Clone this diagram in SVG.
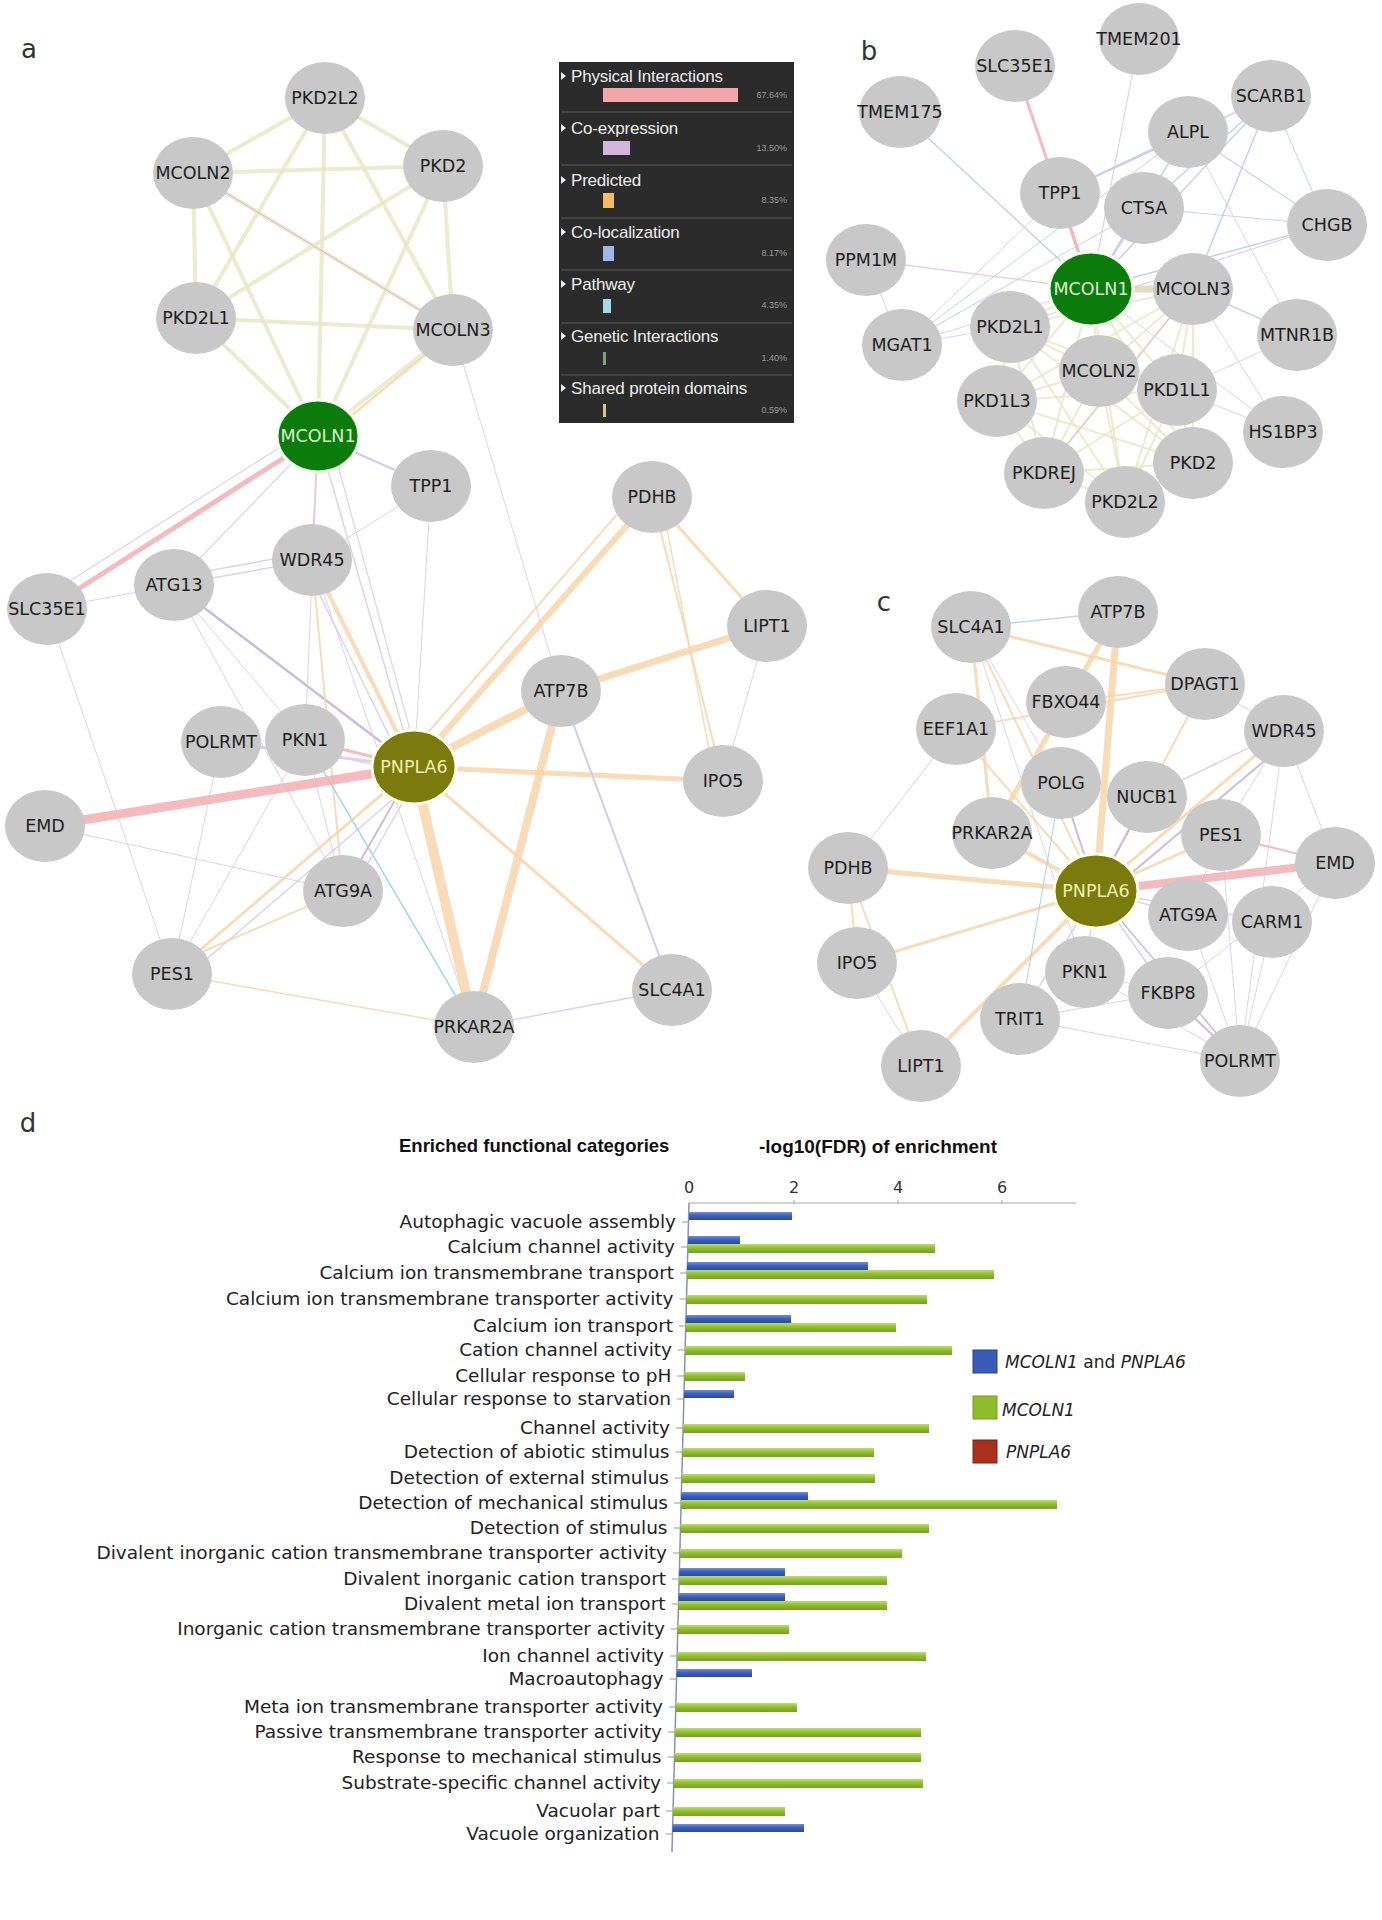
<svg xmlns="http://www.w3.org/2000/svg" width="1382" height="1920" viewBox="0 0 1382 1920">
<style>
.bg{fill:#ffffff}
.e line{fill:none;stroke-linecap:round}
.phy{stroke:#f3b3b6;stroke-opacity:.9}
.phs{stroke:#e9b5c6}
.coe{stroke:#d9cde7;stroke-opacity:.9}
.coed{stroke:#cbbcdf}
.pre{stroke:#f8d5aa;stroke-opacity:.85}
.col{stroke:#c2cbeb;stroke-opacity:.9}
.pat{stroke:#9fd9e6}
.dom{stroke:#e8e8c6;stroke-opacity:.85}
.domb{stroke:#e2dcc2}
.n ellipse{fill:#c8c8c8}
.n text{font-family:"DejaVu Sans","Liberation Sans",sans-serif;font-size:17.5px;fill:#1e1e1e;text-anchor:middle}
.q1 ellipse{fill:#0b7b0c;stroke:#f4fff0;stroke-width:3}
.q1 text{fill:#dcf0d2}
.q2 ellipse{fill:#7b7a0c;stroke:#fffde6;stroke-width:3}
.q2 text{fill:#f2efb4}
.pl{font-family:"DejaVu Sans",sans-serif;font-size:26px;fill:#333}
.lg text.h{font-family:"Liberation Sans",Arial,sans-serif;font-size:17px;letter-spacing:-0.2px;fill:#eeeeee}
.lg text.p{font-family:"Liberation Sans",Arial,sans-serif;font-size:9px;fill:#9a9a9a;text-anchor:end}
.lg line{stroke:#4a4a4a;stroke-width:1.5}
.lg polygon{fill:#eeeeee}
.cl{font-family:"DejaVu Sans",sans-serif;font-size:18.5px;fill:#222;text-anchor:end}
.ct{font-family:"Liberation Sans",Arial,sans-serif;font-size:18.5px;font-weight:bold;fill:#111}
.tk{font-family:"DejaVu Sans",sans-serif;font-size:16px;fill:#333;text-anchor:middle}
.lt{font-family:"DejaVu Sans",sans-serif;font-size:17px;fill:#222}
.it{font-style:italic}
.bb{fill:url(#gb)}
.bgn{fill:url(#gg)}
.tick{stroke:#9a9a9a;stroke-width:1}
</style>
<defs>
<linearGradient id="gb" x1="0" y1="0" x2="0" y2="1"><stop offset="0" stop-color="#6f8fdc"/><stop offset="0.45" stop-color="#3d5fbc"/><stop offset="1" stop-color="#2b489c"/></linearGradient>
<linearGradient id="gg" x1="0" y1="0" x2="0" y2="1"><stop offset="0" stop-color="#bedd66"/><stop offset="0.45" stop-color="#8fbd2e"/><stop offset="1" stop-color="#76a01e"/></linearGradient>
</defs>
<rect class="bg" x="0" y="0" width="1382" height="1920"/>

<text class="pl" x="29" y="58" text-anchor="middle">a</text>
<text class="pl" x="869" y="60" text-anchor="middle">b</text>
<text class="pl" x="884" y="611" text-anchor="middle">c</text>
<text class="pl" x="28" y="1132" text-anchor="middle">d</text>

<g id="connectors" class="e">
 <g id="conn-a">
  <line class="dom" stroke-width="4" x1="325" y1="98" x2="193" y2="173"/>
  <line class="dom" stroke-width="4" x1="325" y1="98" x2="443" y2="166"/>
  <line class="dom" stroke-width="4" x1="325" y1="98" x2="196" y2="318"/>
  <line class="dom" stroke-width="4" x1="325" y1="98" x2="453" y2="330"/>
  <line class="dom" stroke-width="4" x1="325" y1="98" x2="318" y2="436"/>
  <line class="dom" stroke-width="4" x1="193" y1="173" x2="443" y2="166"/>
  <line class="dom" stroke-width="4" x1="193" y1="173" x2="196" y2="318"/>
  <line class="dom" stroke-width="4" x1="193" y1="173" x2="453" y2="330"/>
  <line class="dom" stroke-width="4" x1="193" y1="173" x2="318" y2="436"/>
  <line class="dom" stroke-width="4" x1="443" y1="166" x2="196" y2="318"/>
  <line class="dom" stroke-width="4" x1="443" y1="166" x2="453" y2="330"/>
  <line class="dom" stroke-width="4" x1="443" y1="166" x2="318" y2="436"/>
  <line class="dom" stroke-width="4" x1="196" y1="318" x2="453" y2="330"/>
  <line class="dom" stroke-width="4" x1="196" y1="318" x2="318" y2="436"/>
  <line class="dom" stroke-width="4" x1="453" y1="330" x2="318" y2="436"/>
  <line class="phs" stroke-width="1" x1="193" y1="173" x2="453" y2="330"/>
  <line class="pre" stroke-width="2.5" x1="448" y1="336" x2="322" y2="440"/>
  <line class="phy" stroke-width="5" x1="318" y1="436" x2="47" y2="609"/>
  <line class="coe" stroke-width="1.2" x1="310" y1="428" x2="40" y2="600"/>
  <line class="coe" stroke-width="1.2" x1="318" y1="436" x2="174" y2="585"/>
  <line class="col" stroke-width="2" x1="318" y1="436" x2="431" y2="486"/>
  <line class="coe" stroke-width="2" x1="318" y1="436" x2="312" y2="560"/>
  <line class="coe" stroke-width="1.5" x1="318" y1="436" x2="414" y2="767"/>
  <line class="coe" stroke-width="1.2" x1="330" y1="436" x2="420" y2="767"/>
  <line class="coe" stroke-width="1" x1="318" y1="436" x2="305" y2="740"/>
  <line class="coe" stroke-width="1" x1="453" y1="330" x2="561" y2="691"/>
  <line class="coe" stroke-width="1" x1="431" y1="486" x2="312" y2="560"/>
  <line class="coe" stroke-width="1" x1="431" y1="486" x2="414" y2="767"/>
  <line class="coe" stroke-width="1" x1="47" y1="609" x2="174" y2="585"/>
  <line class="coe" stroke-width="1" x1="47" y1="609" x2="172" y2="974"/>
  <line class="coe" stroke-width="1.5" x1="174" y1="585" x2="312" y2="560"/>
  <line class="coe" stroke-width="1.5" x1="174" y1="577" x2="312" y2="552"/>
  <line class="coed" stroke-width="2.5" x1="174" y1="585" x2="414" y2="767"/>
  <line class="coe" stroke-width="1" x1="174" y1="585" x2="343" y2="891"/>
  <line class="coe" stroke-width="1" x1="174" y1="585" x2="305" y2="740"/>
  <line class="pre" stroke-width="4" x1="312" y1="560" x2="414" y2="767"/>
  <line class="coe" stroke-width="1.5" x1="304" y1="563" x2="406" y2="770"/>
  <line class="pre" stroke-width="2" x1="312" y1="560" x2="343" y2="891"/>
  <line class="coe" stroke-width="1" x1="312" y1="560" x2="474" y2="1027"/>
  <line class="coe" stroke-width="1" x1="45" y1="826" x2="343" y2="891"/>
  <line class="coe" stroke-width="1" x1="172" y1="974" x2="221" y2="742"/>
  <line class="coe" stroke-width="1" x1="172" y1="974" x2="305" y2="740"/>
  <line class="pre" stroke-width="1.5" x1="172" y1="974" x2="474" y2="1027"/>
  <line class="pre" stroke-width="3" x1="172" y1="974" x2="414" y2="767"/>
  <line class="coe" stroke-width="1.5" x1="180" y1="982" x2="420" y2="776"/>
  <line class="pre" stroke-width="2" x1="165" y1="968" x2="343" y2="891"/>
  <line class="pat" stroke-width="1.5" x1="305" y1="740" x2="474" y2="1027"/>
  <line class="coe" stroke-width="1" x1="305" y1="740" x2="343" y2="891"/>
  <line class="coed" stroke-width="2" x1="414" y1="767" x2="343" y2="891"/>
  <line class="coe" stroke-width="1.5" x1="420" y1="772" x2="350" y2="895"/>
  <line class="coe" stroke-width="3" x1="221" y1="742" x2="414" y2="767"/>
  <line class="phy" stroke-width="3" x1="305" y1="740" x2="414" y2="767"/>
  <line class="coe" stroke-width="1.2" x1="305" y1="748" x2="414" y2="775"/>
  <line class="phy" stroke-width="9" x1="45" y1="826" x2="414" y2="767"/>
  <line class="pre" stroke-width="8" x1="414" y1="767" x2="561" y2="691"/>
  <line class="pre" stroke-width="6" x1="414" y1="767" x2="652" y2="497"/>
  <line class="pre" stroke-width="2" x1="406" y1="758" x2="638" y2="490"/>
  <line class="pre" stroke-width="7" x1="561" y1="691" x2="767" y2="626"/>
  <line class="pre" stroke-width="3" x1="652" y1="497" x2="767" y2="626"/>
  <line class="pre" stroke-width="2" x1="652" y1="497" x2="723" y2="781"/>
  <line class="pre" stroke-width="1.5" x1="661" y1="497" x2="715" y2="781"/>
  <line class="coe" stroke-width="1" x1="767" y1="626" x2="723" y2="781"/>
  <line class="pre" stroke-width="5" x1="414" y1="767" x2="723" y2="781"/>
  <line class="pre" stroke-width="10" x1="414" y1="767" x2="474" y2="1027"/>
  <line class="pre" stroke-width="8" x1="561" y1="691" x2="474" y2="1027"/>
  <line class="pre" stroke-width="3" x1="414" y1="767" x2="672" y2="990"/>
  <line class="col" stroke-width="2" x1="561" y1="691" x2="672" y2="990"/>
  <line class="coe" stroke-width="1.5" x1="672" y1="990" x2="474" y2="1027"/>
 </g>
 <g id="conn-b">
  <line class="dom" stroke-width="2" x1="1091" y1="289" x2="1010" y2="327"/>
  <line class="dom" stroke-width="2" x1="1091" y1="289" x2="1099" y2="371"/>
  <line class="dom" stroke-width="2" x1="1091" y1="289" x2="1177" y2="390"/>
  <line class="dom" stroke-width="2" x1="1091" y1="289" x2="997" y2="401"/>
  <line class="dom" stroke-width="2" x1="1091" y1="289" x2="1193" y2="463"/>
  <line class="dom" stroke-width="2" x1="1091" y1="289" x2="1044" y2="473"/>
  <line class="dom" stroke-width="2" x1="1091" y1="289" x2="1125" y2="502"/>
  <line class="dom" stroke-width="2" x1="1193" y1="289" x2="1010" y2="327"/>
  <line class="dom" stroke-width="2" x1="1193" y1="289" x2="1099" y2="371"/>
  <line class="dom" stroke-width="2" x1="1193" y1="289" x2="1177" y2="390"/>
  <line class="dom" stroke-width="2" x1="1193" y1="289" x2="997" y2="401"/>
  <line class="dom" stroke-width="2" x1="1193" y1="289" x2="1193" y2="463"/>
  <line class="dom" stroke-width="2" x1="1193" y1="289" x2="1044" y2="473"/>
  <line class="dom" stroke-width="2" x1="1193" y1="289" x2="1125" y2="502"/>
  <line class="dom" stroke-width="2" x1="1010" y1="327" x2="1099" y2="371"/>
  <line class="dom" stroke-width="2" x1="1010" y1="327" x2="1177" y2="390"/>
  <line class="dom" stroke-width="2" x1="1010" y1="327" x2="997" y2="401"/>
  <line class="dom" stroke-width="2" x1="1010" y1="327" x2="1193" y2="463"/>
  <line class="dom" stroke-width="2" x1="1010" y1="327" x2="1044" y2="473"/>
  <line class="dom" stroke-width="2" x1="1010" y1="327" x2="1125" y2="502"/>
  <line class="dom" stroke-width="2" x1="1099" y1="371" x2="1177" y2="390"/>
  <line class="dom" stroke-width="2" x1="1099" y1="371" x2="997" y2="401"/>
  <line class="dom" stroke-width="2" x1="1099" y1="371" x2="1193" y2="463"/>
  <line class="dom" stroke-width="2" x1="1099" y1="371" x2="1044" y2="473"/>
  <line class="dom" stroke-width="2" x1="1099" y1="371" x2="1125" y2="502"/>
  <line class="dom" stroke-width="2" x1="1177" y1="390" x2="997" y2="401"/>
  <line class="dom" stroke-width="2" x1="1177" y1="390" x2="1193" y2="463"/>
  <line class="dom" stroke-width="2" x1="1177" y1="390" x2="1044" y2="473"/>
  <line class="dom" stroke-width="2" x1="1177" y1="390" x2="1125" y2="502"/>
  <line class="dom" stroke-width="2" x1="997" y1="401" x2="1193" y2="463"/>
  <line class="dom" stroke-width="2" x1="997" y1="401" x2="1044" y2="473"/>
  <line class="dom" stroke-width="2" x1="997" y1="401" x2="1125" y2="502"/>
  <line class="dom" stroke-width="2" x1="1193" y1="463" x2="1044" y2="473"/>
  <line class="dom" stroke-width="2" x1="1193" y1="463" x2="1125" y2="502"/>
  <line class="dom" stroke-width="2" x1="1044" y1="473" x2="1125" y2="502"/>
  <line class="phs" stroke-width="1" x1="1193" y1="289" x2="1044" y2="473"/>
  <line class="domb" stroke-width="7" x1="1091" y1="289" x2="1193" y2="289"/>
  <line class="phy" stroke-width="3" x1="1015" y1="66" x2="1091" y2="289"/>
  <line class="phy" stroke-width="2" x1="1060" y1="193" x2="1091" y2="289"/>
  <line class="coe" stroke-width="1.2" x1="1139" y1="39" x2="1091" y2="289"/>
  <line class="col" stroke-width="1.5" x1="900" y1="112" x2="1091" y2="289"/>
  <line class="col" stroke-width="1.5" x1="1188" y1="132" x2="1091" y2="289"/>
  <line class="col" stroke-width="1.5" x1="1188" y1="132" x2="1060" y2="193"/>
  <line class="col" stroke-width="1.2" x1="1188" y1="132" x2="1327" y2="225"/>
  <line class="col" stroke-width="1" x1="1188" y1="132" x2="902" y2="345"/>
  <line class="coe" stroke-width="1" x1="1188" y1="132" x2="1297" y2="335"/>
  <line class="col" stroke-width="1.5" x1="1271" y1="96" x2="1060" y2="193"/>
  <line class="col" stroke-width="1.5" x1="1271" y1="96" x2="1144" y2="208"/>
  <line class="col" stroke-width="1.5" x1="1271" y1="96" x2="1091" y2="289"/>
  <line class="col" stroke-width="1" x1="1271" y1="96" x2="1327" y2="225"/>
  <line class="col" stroke-width="1.5" x1="1271" y1="96" x2="1193" y2="289"/>
  <line class="col" stroke-width="1.5" x1="1327" y1="225" x2="1091" y2="289"/>
  <line class="col" stroke-width="1" x1="1327" y1="225" x2="1144" y2="208"/>
  <line class="col" stroke-width="1" x1="1327" y1="225" x2="1010" y2="327"/>
  <line class="col" stroke-width="1.5" x1="1297" y1="335" x2="1193" y2="289"/>
  <line class="coe" stroke-width="1" x1="1297" y1="335" x2="1177" y2="390"/>
  <line class="coe" stroke-width="1" x1="1283" y1="432" x2="1193" y2="289"/>
  <line class="coe" stroke-width="1" x1="1283" y1="432" x2="1091" y2="289"/>
  <line class="coe" stroke-width="1" x1="1283" y1="432" x2="1177" y2="390"/>
  <line class="coe" stroke-width="1.5" x1="866" y1="260" x2="1091" y2="289"/>
  <line class="coe" stroke-width="1" x1="866" y1="260" x2="902" y2="345"/>
  <line class="coe" stroke-width="1" x1="902" y1="345" x2="1091" y2="289"/>
  <line class="coe" stroke-width="1" x1="902" y1="345" x2="1060" y2="193"/>
  <line class="col" stroke-width="1" x1="902" y1="345" x2="1144" y2="208"/>
  <line class="coe" stroke-width="1" x1="902" y1="345" x2="1010" y2="327"/>
  <line class="col" stroke-width="1.5" x1="1091" y1="289" x2="1144" y2="208"/>
 </g>
 <g id="conn-c">
  <line class="col" stroke-width="1.5" x1="971" y1="627" x2="1118" y2="612"/>
  <line class="pre" stroke-width="3" x1="971" y1="627" x2="1205" y2="684"/>
  <line class="pre" stroke-width="2" x1="971" y1="627" x2="1096" y2="891"/>
  <line class="pre" stroke-width="3" x1="971" y1="627" x2="992" y2="833"/>
  <line class="coe" stroke-width="1" x1="971" y1="627" x2="1085" y2="972"/>
  <line class="coe" stroke-width="1" x1="971" y1="627" x2="1061" y2="783"/>
  <line class="pre" stroke-width="7" x1="1118" y1="612" x2="1096" y2="891"/>
  <line class="pre" stroke-width="5" x1="1118" y1="612" x2="992" y2="833"/>
  <line class="pre" stroke-width="2" x1="1066" y1="702" x2="1205" y2="684"/>
  <line class="pre" stroke-width="2" x1="956" y1="729" x2="1205" y2="684"/>
  <line class="pre" stroke-width="2" x1="956" y1="729" x2="1096" y2="891"/>
  <line class="coe" stroke-width="1" x1="956" y1="729" x2="848" y2="868"/>
  <line class="pre" stroke-width="2" x1="1205" y1="684" x2="1096" y2="891"/>
  <line class="coe" stroke-width="1" x1="1205" y1="684" x2="1284" y2="731"/>
  <line class="pre" stroke-width="3" x1="1284" y1="731" x2="1096" y2="891"/>
  <line class="coed" stroke-width="2" x1="1289" y1="740" x2="1101" y2="899"/>
  <line class="coe" stroke-width="1" x1="1284" y1="731" x2="1335" y2="863"/>
  <line class="coe" stroke-width="1.5" x1="1284" y1="731" x2="1147" y2="797"/>
  <line class="coe" stroke-width="1" x1="1284" y1="731" x2="1240" y2="1061"/>
  <line class="coed" stroke-width="2" x1="1147" y1="797" x2="1096" y2="891"/>
  <line class="coed" stroke-width="2" x1="1061" y1="783" x2="1096" y2="891"/>
  <line class="pre" stroke-width="4" x1="992" y1="833" x2="1096" y2="891"/>
  <line class="pre" stroke-width="3" x1="1221" y1="835" x2="1096" y2="891"/>
  <line class="coe" stroke-width="1" x1="1221" y1="835" x2="1240" y2="1061"/>
  <line class="coe" stroke-width="1" x1="1221" y1="835" x2="1284" y2="731"/>
  <line class="coe" stroke-width="1" x1="1221" y1="835" x2="1188" y2="915"/>
  <line class="phy" stroke-width="2" x1="1221" y1="835" x2="1335" y2="863"/>
  <line class="phy" stroke-width="8" x1="1335" y1="863" x2="1096" y2="891"/>
  <line class="coe" stroke-width="1" x1="1335" y1="863" x2="1240" y2="1061"/>
  <line class="coe" stroke-width="1" x1="1335" y1="863" x2="1168" y2="993"/>
  <line class="coe" stroke-width="1.5" x1="1272" y1="922" x2="1096" y2="891"/>
  <line class="coe" stroke-width="1" x1="1272" y1="922" x2="1240" y2="1061"/>
  <line class="coe" stroke-width="1.5" x1="1188" y1="915" x2="1096" y2="891"/>
  <line class="coe" stroke-width="1.5" x1="1085" y1="972" x2="1096" y2="891"/>
  <line class="coe" stroke-width="1.5" x1="1168" y1="993" x2="1096" y2="891"/>
  <line class="coed" stroke-width="2" x1="1168" y1="993" x2="1240" y2="1061"/>
  <line class="coe" stroke-width="1.5" x1="1020" y1="1019" x2="1096" y2="891"/>
  <line class="coe" stroke-width="1" x1="1020" y1="1019" x2="1240" y2="1061"/>
  <line class="coe" stroke-width="1" x1="1020" y1="1019" x2="1168" y2="993"/>
  <line class="coe" stroke-width="1" x1="1085" y1="972" x2="1168" y2="993"/>
  <line class="pre" stroke-width="4" x1="921" y1="1066" x2="1096" y2="891"/>
  <line class="pre" stroke-width="3" x1="857" y1="963" x2="1096" y2="891"/>
  <line class="pre" stroke-width="5" x1="848" y1="868" x2="1096" y2="891"/>
  <line class="pre" stroke-width="2" x1="848" y1="868" x2="857" y2="963"/>
  <line class="pre" stroke-width="2" x1="848" y1="868" x2="921" y2="1066"/>
  <line class="coe" stroke-width="1" x1="857" y1="963" x2="921" y2="1066"/>
  <line class="coed" stroke-width="1.5" x1="1240" y1="1061" x2="1096" y2="891"/>
  <line class="coe" stroke-width="1" x1="1240" y1="1061" x2="1188" y2="915"/>
  <line class="coe" stroke-width="1" x1="1240" y1="1061" x2="1085" y2="972"/>
  <line class="pat" stroke-width="1" x1="1020" y1="1019" x2="1061" y2="783"/>
 </g>
</g>

<g id="nodes-a" class="n">
 <g id="a-PKD2L2"><ellipse cx="325" cy="98" rx="40" ry="36"/><text x="325" y="104">PKD2L2</text></g>
 <g id="a-MCOLN2"><ellipse cx="193" cy="173" rx="40" ry="36"/><text x="193" y="179">MCOLN2</text></g>
 <g id="a-PKD2"><ellipse cx="443" cy="166" rx="40" ry="36"/><text x="443" y="172">PKD2</text></g>
 <g id="a-PKD2L1"><ellipse cx="196" cy="318" rx="40" ry="36"/><text x="196" y="324">PKD2L1</text></g>
 <g id="a-MCOLN3"><ellipse cx="453" cy="330" rx="40" ry="36"/><text x="453" y="336">MCOLN3</text></g>
 <g id="a-MCOLN1" class="q1"><ellipse cx="318" cy="436" rx="41" ry="36"/><text x="318" y="442">MCOLN1</text></g>
 <g id="a-TPP1"><ellipse cx="431" cy="486" rx="40" ry="36"/><text x="431" y="492">TPP1</text></g>
 <g id="a-PDHB"><ellipse cx="652" cy="497" rx="40" ry="36"/><text x="652" y="503">PDHB</text></g>
 <g id="a-WDR45"><ellipse cx="312" cy="560" rx="40" ry="36"/><text x="312" y="566">WDR45</text></g>
 <g id="a-ATG13"><ellipse cx="174" cy="585" rx="40" ry="36"/><text x="174" y="591">ATG13</text></g>
 <g id="a-SLC35E1"><ellipse cx="47" cy="609" rx="40" ry="36"/><text x="47" y="615">SLC35E1</text></g>
 <g id="a-LIPT1"><ellipse cx="767" cy="626" rx="40" ry="36"/><text x="767" y="632">LIPT1</text></g>
 <g id="a-ATP7B"><ellipse cx="561" cy="691" rx="40" ry="36"/><text x="561" y="697">ATP7B</text></g>
 <g id="a-POLRMT"><ellipse cx="221" cy="742" rx="40" ry="36"/><text x="221" y="748">POLRMT</text></g>
 <g id="a-PKN1"><ellipse cx="305" cy="740" rx="40" ry="36"/><text x="305" y="746">PKN1</text></g>
 <g id="a-PNPLA6" class="q2"><ellipse cx="414" cy="767" rx="42" ry="37"/><text x="414" y="773">PNPLA6</text></g>
 <g id="a-IPO5"><ellipse cx="723" cy="781" rx="40" ry="36"/><text x="723" y="787">IPO5</text></g>
 <g id="a-EMD"><ellipse cx="45" cy="826" rx="40" ry="36"/><text x="45" y="832">EMD</text></g>
 <g id="a-ATG9A"><ellipse cx="343" cy="891" rx="40" ry="36"/><text x="343" y="897">ATG9A</text></g>
 <g id="a-PES1"><ellipse cx="172" cy="974" rx="40" ry="36"/><text x="172" y="980">PES1</text></g>
 <g id="a-SLC4A1"><ellipse cx="672" cy="990" rx="40" ry="36"/><text x="672" y="996">SLC4A1</text></g>
 <g id="a-PRKAR2A"><ellipse cx="474" cy="1027" rx="40" ry="36"/><text x="474" y="1033">PRKAR2A</text></g>
</g>

<g id="legend-a" class="lg">
 <rect x="559" y="62" width="235" height="361" fill="#2b2b2b"/>
 <line x1="561" y1="112" x2="792" y2="112"/>
 <line x1="561" y1="165" x2="792" y2="165"/>
 <line x1="561" y1="218" x2="792" y2="218"/>
 <line x1="561" y1="270" x2="792" y2="270"/>
 <line x1="561" y1="323" x2="792" y2="323"/>
 <line x1="561" y1="375" x2="792" y2="375"/>
 <polygon points="561,72 566,76 561,80"/>
 <text class="h" x="571" y="82">Physical Interactions</text>
 <rect x="603" y="88" width="135" height="14" fill="#f2a8aa"/>
 <text class="p" x="787" y="98">67.64%</text>
 <polygon points="561,124 566,128 561,132"/>
 <text class="h" x="571" y="134">Co-expression</text>
 <rect x="603" y="141" width="27" height="14" fill="#d4b6dc"/>
 <text class="p" x="787" y="151">13.50%</text>
 <polygon points="561,176 566,180 561,184"/>
 <text class="h" x="571" y="186">Predicted</text>
 <rect x="603" y="193" width="11" height="15" fill="#f4bb66"/>
 <text class="p" x="787" y="203">8.35%</text>
 <polygon points="561,228 566,232 561,236"/>
 <text class="h" x="571" y="238">Co-localization</text>
 <rect x="603" y="246" width="11" height="15" fill="#9fb7e6"/>
 <text class="p" x="787" y="256">8.17%</text>
 <polygon points="561,280 566,284 561,288"/>
 <text class="h" x="571" y="290">Pathway</text>
 <rect x="603" y="299" width="8" height="14" fill="#a3dbe6"/>
 <text class="p" x="787" y="308">4.35%</text>
 <polygon points="561,332 566,336 561,340"/>
 <text class="h" x="571" y="342">Genetic Interactions</text>
 <rect x="603" y="352" width="3" height="13" fill="#7aa86a"/>
 <text class="p" x="787" y="361">1.40%</text>
 <polygon points="561,384 566,388 561,392"/>
 <text class="h" x="571" y="394">Shared protein domains</text>
 <rect x="603" y="404" width="3" height="13" fill="#cfc88a"/>
 <text class="p" x="787" y="413">0.59%</text>
</g>

<g id="nodes-b" class="n">
 <g id="b-TMEM201"><ellipse cx="1139" cy="39" rx="40" ry="36"/><text x="1139" y="45">TMEM201</text></g>
 <g id="b-SLC35E1"><ellipse cx="1015" cy="66" rx="40" ry="36"/><text x="1015" y="72">SLC35E1</text></g>
 <g id="b-TMEM175"><ellipse cx="900" cy="112" rx="41" ry="36"/><text x="900" y="118">TMEM175</text></g>
 <g id="b-SCARB1"><ellipse cx="1271" cy="96" rx="40" ry="36"/><text x="1271" y="102">SCARB1</text></g>
 <g id="b-ALPL"><ellipse cx="1188" cy="132" rx="40" ry="36"/><text x="1188" y="138">ALPL</text></g>
 <g id="b-TPP1"><ellipse cx="1060" cy="193" rx="40" ry="36"/><text x="1060" y="199">TPP1</text></g>
 <g id="b-CTSA"><ellipse cx="1144" cy="208" rx="40" ry="36"/><text x="1144" y="214">CTSA</text></g>
 <g id="b-CHGB"><ellipse cx="1327" cy="225" rx="40" ry="36"/><text x="1327" y="231">CHGB</text></g>
 <g id="b-PPM1M"><ellipse cx="866" cy="260" rx="40" ry="36"/><text x="866" y="266">PPM1M</text></g>
 <g id="b-MCOLN3"><ellipse cx="1193" cy="289" rx="40" ry="36"/><text x="1193" y="295">MCOLN3</text></g>
 <g id="b-MCOLN1" class="q1"><ellipse cx="1091" cy="289" rx="42" ry="37"/><text x="1091" y="295">MCOLN1</text></g>
 <g id="b-MTNR1B"><ellipse cx="1297" cy="335" rx="40" ry="36"/><text x="1297" y="341">MTNR1B</text></g>
 <g id="b-MGAT1"><ellipse cx="902" cy="345" rx="40" ry="36"/><text x="902" y="351">MGAT1</text></g>
 <g id="b-PKD2L1"><ellipse cx="1010" cy="327" rx="40" ry="36"/><text x="1010" y="333">PKD2L1</text></g>
 <g id="b-MCOLN2"><ellipse cx="1099" cy="371" rx="40" ry="36"/><text x="1099" y="377">MCOLN2</text></g>
 <g id="b-PKD1L1"><ellipse cx="1177" cy="390" rx="40" ry="36"/><text x="1177" y="396">PKD1L1</text></g>
 <g id="b-PKD1L3"><ellipse cx="997" cy="401" rx="40" ry="36"/><text x="997" y="407">PKD1L3</text></g>
 <g id="b-HS1BP3"><ellipse cx="1283" cy="432" rx="40" ry="36"/><text x="1283" y="438">HS1BP3</text></g>
 <g id="b-PKD2"><ellipse cx="1193" cy="463" rx="40" ry="36"/><text x="1193" y="469">PKD2</text></g>
 <g id="b-PKDREJ"><ellipse cx="1044" cy="473" rx="40" ry="36"/><text x="1044" y="479">PKDREJ</text></g>
 <g id="b-PKD2L2"><ellipse cx="1125" cy="502" rx="40" ry="36"/><text x="1125" y="508">PKD2L2</text></g>
</g>

<g id="nodes-c" class="n">
 <g id="c-SLC4A1"><ellipse cx="971" cy="627" rx="40" ry="36"/><text x="971" y="633">SLC4A1</text></g>
 <g id="c-ATP7B"><ellipse cx="1118" cy="612" rx="40" ry="36"/><text x="1118" y="618">ATP7B</text></g>
 <g id="c-DPAGT1"><ellipse cx="1205" cy="684" rx="40" ry="36"/><text x="1205" y="690">DPAGT1</text></g>
 <g id="c-FBXO44"><ellipse cx="1066" cy="702" rx="40" ry="36"/><text x="1066" y="708">FBXO44</text></g>
 <g id="c-EEF1A1"><ellipse cx="956" cy="729" rx="40" ry="36"/><text x="956" y="735">EEF1A1</text></g>
 <g id="c-WDR45"><ellipse cx="1284" cy="731" rx="40" ry="36"/><text x="1284" y="737">WDR45</text></g>
 <g id="c-POLG"><ellipse cx="1061" cy="783" rx="40" ry="36"/><text x="1061" y="789">POLG</text></g>
 <g id="c-NUCB1"><ellipse cx="1147" cy="797" rx="40" ry="36"/><text x="1147" y="803">NUCB1</text></g>
 <g id="c-PRKAR2A"><ellipse cx="992" cy="833" rx="40" ry="36"/><text x="992" y="839">PRKAR2A</text></g>
 <g id="c-PES1"><ellipse cx="1221" cy="835" rx="40" ry="36"/><text x="1221" y="841">PES1</text></g>
 <g id="c-EMD"><ellipse cx="1335" cy="863" rx="40" ry="36"/><text x="1335" y="869">EMD</text></g>
 <g id="c-PDHB"><ellipse cx="848" cy="868" rx="40" ry="36"/><text x="848" y="874">PDHB</text></g>
 <g id="c-ATG9A"><ellipse cx="1188" cy="915" rx="40" ry="36"/><text x="1188" y="921">ATG9A</text></g>
 <g id="c-CARM1"><ellipse cx="1272" cy="922" rx="40" ry="36"/><text x="1272" y="928">CARM1</text></g>
 <g id="c-PNPLA6" class="q2"><ellipse cx="1096" cy="891" rx="42" ry="37"/><text x="1096" y="897">PNPLA6</text></g>
 <g id="c-IPO5"><ellipse cx="857" cy="963" rx="40" ry="36"/><text x="857" y="969">IPO5</text></g>
 <g id="c-PKN1"><ellipse cx="1085" cy="972" rx="40" ry="36"/><text x="1085" y="978">PKN1</text></g>
 <g id="c-FKBP8"><ellipse cx="1168" cy="993" rx="40" ry="36"/><text x="1168" y="999">FKBP8</text></g>
 <g id="c-TRIT1"><ellipse cx="1020" cy="1019" rx="40" ry="36"/><text x="1020" y="1025">TRIT1</text></g>
 <g id="c-LIPT1"><ellipse cx="921" cy="1066" rx="40" ry="36"/><text x="921" y="1072">LIPT1</text></g>
 <g id="c-POLRMT"><ellipse cx="1240" cy="1061" rx="40" ry="36"/><text x="1240" y="1067">POLRMT</text></g>
</g>

<g id="chart-d">
 <text class="ct" x="399" y="1152">Enriched functional categories</text>
 <text class="ct" x="759" y="1153" textLength="238" lengthAdjust="spacingAndGlyphs">-log10(FDR) of  enrichment</text>
 <text class="tk" x="689" y="1193">0</text>
 <text class="tk" x="794" y="1193">2</text>
 <text class="tk" x="898" y="1193">4</text>
 <text class="tk" x="1002" y="1193">6</text>
 <line x1="689" y1="1203" x2="1076" y2="1203" stroke="#a8a8a8" stroke-width="1.2"/>
 <line x1="794" y1="1200" x2="794" y2="1204" stroke="#a8a8a8"/>
 <line x1="898" y1="1200" x2="898" y2="1204" stroke="#a8a8a8"/>
 <line x1="1002" y1="1200" x2="1002" y2="1204" stroke="#a8a8a8"/>
 <line x1="689" y1="1203" x2="672" y2="1852" stroke="#8893a8" stroke-width="1.5"/>

 <g id="bars">
  <rect class="bb" x="689" y="1212" width="103" height="8"/>
  <rect class="bb" x="688" y="1236" width="52" height="8"/>
  <rect class="bgn" x="688" y="1244" width="247" height="9"/>
  <rect class="bb" x="687" y="1262" width="181" height="8"/>
  <rect class="bgn" x="687" y="1270" width="307" height="9"/>
  <rect class="bgn" x="686.5" y="1295" width="240.5" height="9"/>
  <rect class="bb" x="685.8" y="1315" width="105.2" height="8"/>
  <rect class="bgn" x="685.8" y="1323" width="210.2" height="9"/>
  <rect class="bgn" x="685.1" y="1346" width="266.9" height="9"/>
  <rect class="bgn" x="684.5" y="1372" width="60.5" height="9"/>
  <rect class="bb" x="683.9" y="1390" width="50.1" height="8"/>
  <rect class="bgn" x="683.1" y="1424" width="245.9" height="9"/>
  <rect class="bgn" x="682.5" y="1448" width="191.5" height="9"/>
  <rect class="bgn" x="681.8" y="1474" width="193.2" height="9"/>
  <rect class="bb" x="681.1" y="1492" width="126.9" height="8"/>
  <rect class="bgn" x="681.1" y="1500" width="375.9" height="9"/>
  <rect class="bgn" x="680.5" y="1524" width="248.5" height="9"/>
  <rect class="bgn" x="679.8" y="1549" width="222.2" height="9"/>
  <rect class="bb" x="679.2" y="1568" width="105.8" height="8"/>
  <rect class="bgn" x="679.2" y="1576" width="207.8" height="9"/>
  <rect class="bb" x="678.5" y="1593" width="106.5" height="8"/>
  <rect class="bgn" x="678.5" y="1601" width="208.5" height="9"/>
  <rect class="bgn" x="677.8" y="1625" width="111.2" height="9"/>
  <rect class="bgn" x="677.1" y="1652" width="248.9" height="9"/>
  <rect class="bb" x="676.5" y="1669" width="75.5" height="8"/>
  <rect class="bgn" x="675.8" y="1703" width="121.2" height="9"/>
  <rect class="bgn" x="675.1" y="1728" width="245.9" height="9"/>
  <rect class="bgn" x="674.5" y="1753" width="246.5" height="9"/>
  <rect class="bgn" x="673.8" y="1779" width="249.2" height="9"/>
  <rect class="bgn" x="673.1" y="1807" width="111.9" height="9"/>
  <rect class="bb" x="672.5" y="1824" width="131.5" height="8"/>
 </g>
 <g id="row-ticks">
  <line class="tick" x1="682" y1="1222" x2="689" y2="1222"/>
  <line class="tick" x1="681" y1="1247" x2="688" y2="1247"/>
  <line class="tick" x1="680" y1="1273" x2="687" y2="1273"/>
  <line class="tick" x1="679.5" y1="1299" x2="686.5" y2="1299"/>
  <line class="tick" x1="679" y1="1326" x2="686" y2="1326"/>
  <line class="tick" x1="678" y1="1350" x2="685" y2="1350"/>
  <line class="tick" x1="677.5" y1="1376" x2="684.5" y2="1376"/>
  <line class="tick" x1="677" y1="1399" x2="684" y2="1399"/>
  <line class="tick" x1="676" y1="1428" x2="683" y2="1428"/>
  <line class="tick" x1="675.5" y1="1452" x2="682.5" y2="1452"/>
  <line class="tick" x1="675" y1="1478" x2="682" y2="1478"/>
  <line class="tick" x1="674" y1="1503" x2="681" y2="1503"/>
  <line class="tick" x1="673.5" y1="1528" x2="680.5" y2="1528"/>
  <line class="tick" x1="673" y1="1553" x2="680" y2="1553"/>
  <line class="tick" x1="672" y1="1579" x2="679" y2="1579"/>
  <line class="tick" x1="671.5" y1="1604" x2="678.5" y2="1604"/>
  <line class="tick" x1="671" y1="1629" x2="678" y2="1629"/>
  <line class="tick" x1="670" y1="1656" x2="677" y2="1656"/>
  <line class="tick" x1="669.5" y1="1679" x2="676.5" y2="1679"/>
  <line class="tick" x1="669" y1="1707" x2="676" y2="1707"/>
  <line class="tick" x1="668" y1="1732" x2="675" y2="1732"/>
  <line class="tick" x1="667.5" y1="1757" x2="674.5" y2="1757"/>
  <line class="tick" x1="667" y1="1783" x2="674" y2="1783"/>
  <line class="tick" x1="666" y1="1811" x2="673" y2="1811"/>
  <line class="tick" x1="665.5" y1="1834" x2="672.5" y2="1834"/>
 </g>
 <g id="row-labels">
  <text class="cl" x="676" y="1228">Autophagic vacuole assembly</text>
  <text class="cl" x="675" y="1253">Calcium channel activity</text>
  <text class="cl" x="674" y="1279">Calcium ion transmembrane transport</text>
  <text class="cl" x="673.5" y="1305">Calcium ion transmembrane transporter activity</text>
  <text class="cl" x="673" y="1332">Calcium ion transport</text>
  <text class="cl" x="672" y="1356">Cation channel activity</text>
  <text class="cl" x="671.5" y="1382">Cellular response to pH</text>
  <text class="cl" x="671" y="1405">Cellular response to starvation</text>
  <text class="cl" x="670" y="1434">Channel activity</text>
  <text class="cl" x="669.5" y="1458">Detection of abiotic stimulus</text>
  <text class="cl" x="669" y="1484">Detection of external stimulus</text>
  <text class="cl" x="668" y="1509">Detection of mechanical stimulus</text>
  <text class="cl" x="667.5" y="1534">Detection of stimulus</text>
  <text class="cl" x="667" y="1559">Divalent inorganic cation transmembrane transporter activity</text>
  <text class="cl" x="666" y="1585">Divalent inorganic cation transport</text>
  <text class="cl" x="665.5" y="1610">Divalent metal ion transport</text>
  <text class="cl" x="665" y="1635">Inorganic cation transmembrane transporter activity</text>
  <text class="cl" x="664" y="1662">Ion channel activity</text>
  <text class="cl" x="663.5" y="1685">Macroautophagy</text>
  <text class="cl" x="663" y="1713">Meta ion transmembrane transporter activity</text>
  <text class="cl" x="662" y="1738">Passive transmembrane transporter activity</text>
  <text class="cl" x="661.5" y="1763">Response to mechanical stimulus</text>
  <text class="cl" x="661" y="1789">Substrate-specific channel activity</text>
  <text class="cl" x="660" y="1817">Vacuolar part</text>
  <text class="cl" x="659.5" y="1840">Vacuole organization</text>
 </g>
 <g id="legend-d">
  <rect x="973" y="1350" width="24" height="23" fill="#3a5cb8" stroke="#2a4088" stroke-width="1"/>
  <text class="lt" x="1005" y="1368"><tspan class="it">MCOLN1</tspan> and <tspan class="it">PNPLA6</tspan></text>
  <rect x="973" y="1396" width="24" height="23" fill="#8ebb2c" stroke="#76a020" stroke-width="1"/>
  <text class="lt it" x="1002" y="1416">MCOLN1</text>
  <rect x="973" y="1440" width="24" height="23" fill="#a8301c" stroke="#7e2012" stroke-width="1"/>
  <text class="lt it" x="1006" y="1458">PNPLA6</text>
 </g>
</g>
</svg>
